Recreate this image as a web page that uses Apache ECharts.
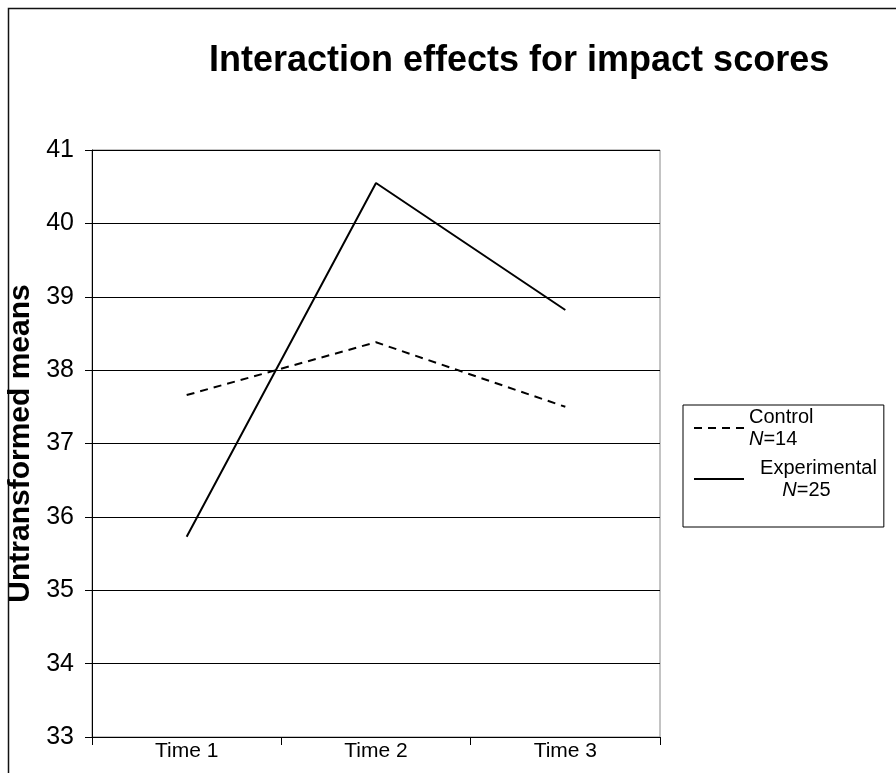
<!DOCTYPE html>
<html>
<head>
<meta charset="utf-8">
<script src="https://cdn.jsdelivr.net/npm/echarts@6/dist/echarts.min.js"></script>
<style>
  html, body { margin: 0; padding: 0; background: #fff; }
  #main { width: 896px; height: 773px; }
</style>
</head>
<body>
<div id="main"></div>
<script>
// data
var categories = ['Time 1', 'Time 2', 'Time 3'];
var controlMeans = [37.66, 38.38, 37.50];
var experimentalMeans = [35.73, 40.55, 38.82];
var yTicks = [33, 34, 35, 36, 37, 38, 39, 40, 41];

var myChart = echarts.init(document.getElementById('main'));

var font = 'Liberation Sans, Arial, sans-serif';

option = {
    backgroundColor: '#fff',
    animation: false,
    textStyle: { fontFamily: font, color: '#000' },
    title: {
        text: 'Interaction effects for impact scores',
        left: 204,
        top: 38,
        textStyle: { fontSize: 36, fontWeight: 'bold', color: '#000', fontFamily: font }
    },
    // outer frame of the chart
    graphic: [{
        type: 'rect',
        shape: { x: 8.5, y: 8.5, width: 1000, height: 1000 },
        style: { fill: 'none', stroke: '#111', lineWidth: 1.5 },
        silent: true
    }],
    legend: {
        orient: 'vertical',
        left: 683,
        top: 405,
        itemWidth: 50,
        itemHeight: 12,
        itemGap: 9,
        padding: [2, 7, 27, 10],
        borderColor: '#000',
        borderWidth: 1,
        itemStyle: { opacity: 0 },
        data: ['Control', 'Experimental'],
        formatter: function (name) {
            if (name == 'Control') {
                return '{t|Control}\n{n|N}{t|=14}';
            }
            return '{t|  Experimental}\n{t|      }{n|N}{t|=25}';
        },
        textStyle: {
            rich: {
                t: { fontSize: 20, fontFamily: font, color: '#000', lineHeight: 22 },
                n: { fontSize: 20, fontFamily: font, fontStyle: 'italic', color: '#000', lineHeight: 22 }
            }
        }
    },
    grid: {
        left: 92,
        right: 236,
        top: 150,
        bottom: 36,
        outerBoundsMode: 'none',
        show: true,
        borderColor: '#888',
        borderWidth: 1
    },
    xAxis: {
        type: 'category',
        data: categories,
        boundaryGap: true,
        axisLine: { lineStyle: { color: '#000', width: 1 } },
        axisTick: { show: true, length: 8, lineStyle: { color: '#000' } },
        axisLabel: { fontSize: 21, color: '#000', margin: 4, fontFamily: font },
        splitLine: { show: false }
    },
    yAxis: {
        type: 'value',
        min: yTicks[0],
        max: yTicks[yTicks.length - 1],
        interval: 1,
        name: 'Untransformed means',
        nameLocation: 'middle',
        nameGap: 55,
        nameTextStyle: { fontSize: 30, fontWeight: 'bold', color: '#000', fontFamily: font },
        axisLine: { show: true, lineStyle: { color: '#000', width: 1 } },
        axisTick: { show: true, length: 7, lineStyle: { color: '#000' } },
        axisLabel: { fontSize: 25, color: '#000', margin: 18, fontFamily: font },
        splitLine: { show: true, lineStyle: { color: '#000', width: 1 } }
    },
    series: [
        {
            name: 'Control',
            type: 'line',
            data: controlMeans,
            symbol: 'none',
            lineStyle: { color: '#000', width: 2, type: [8, 6] },
            itemStyle: { color: '#000' }
        },
        {
            name: 'Experimental',
            type: 'line',
            data: experimentalMeans,
            symbol: 'none',
            lineStyle: { color: '#000', width: 2, type: 'solid' },
            itemStyle: { color: '#000' }
        }
    ]
};

myChart.setOption(option);
</script>
</body>
</html>
